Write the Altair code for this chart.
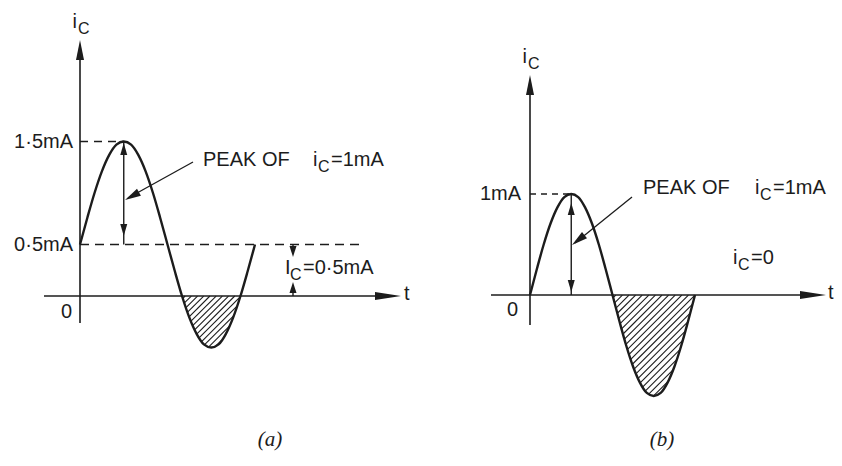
import math
import altair as alt
import numpy as np
import pandas as pd

# ---------------- values ----------------
# phase within one cycle of the signal (fraction of a period)
phase = [0.0, 0.042, 0.083, 0.125, 0.167, 0.208, 0.25, 0.292, 0.333, 0.375, 0.417, 0.458,
         0.5, 0.542, 0.583, 0.625, 0.667, 0.708, 0.75, 0.792, 0.833, 0.875, 0.917, 0.958, 1.0]
# (a) collector current riding on a 0.5 mA bias (mA)
ic_a = [0.50, 0.76, 1.00, 1.21, 1.37, 1.47, 1.50, 1.47, 1.37, 1.21, 1.00, 0.76,
        0.50, 0.24, 0.00, -0.21, -0.37, -0.47, -0.50, -0.47, -0.37, -0.21, 0.00, 0.24, 0.50]
# (b) collector current with no bias (mA)
ic_b = [0.00, 0.26, 0.50, 0.71, 0.87, 0.97, 1.00, 0.97, 0.87, 0.71, 0.50, 0.26,
        0.00, -0.26, -0.50, -0.71, -0.87, -0.97, -1.00, -0.97, -0.87, -0.71, -0.50, -0.26, 0.00]
bias_a = 0.5
bias_b = 0.0
ticks_a = ["1·5mA", "0·5mA", "0"]
ticks_b = ["1mA", "0"]
peak_text = ["PEAK OF", "i", "C", "=1mA"]
dc_text_a = ["I", "C", "=0·5mA"]
dc_text_b = ["i", "C", "=0"]
axis_text = ["i", "C", "t"]
panel_titles = ["(a)", "(b)"]

# ---------------- layout / style ----------------
W, H = 826, 446
MARGIN = 8
INK = "#1c1c1c"
FONT = "Liberation Sans"
SERIF = "Liberation Serif"
FS = 20
FSUB = 16
# screen calibration of each panel: x of t=0, px per period, y of i=0, px per mA
CAL_A = (80, 175, 296, 103)
CAL_B = (530, 165, 295, 101)
ONE = pd.DataFrame({"k": [0]})


def tools(cal):
    x0, sx, y0, sy = cal
    xs = alt.Scale(domain=[(MARGIN - x0) / sx, (MARGIN + W - x0) / sx], nice=False, zero=False)
    ys = alt.Scale(domain=[(y0 - MARGIN - H) / sy, (y0 - MARGIN) / sy], nice=False, zero=False)
    px = lambda X: (X - x0) / sx
    py = lambda Y: (y0 - Y) / sy

    def rule(x1, y1, x2, y2, w=1.5, dash=None):
        kw = dict(color=INK, strokeWidth=w)
        if dash:
            kw["strokeDash"] = dash
        return alt.Chart(ONE).mark_rule(**kw).encode(
            x=alt.XDatum(x1, scale=xs, axis=None), x2=alt.X2Datum(x2),
            y=alt.YDatum(y1, scale=ys, axis=None), y2=alt.Y2Datum(y2))

    def head(x, y, angle, length, width):
        half = width / length
        shape = f"M0,0 L-2,{-half:.3f} L-2,{half:.3f} Z"
        return alt.Chart(ONE).mark_point(shape=shape, size=length ** 2, angle=angle % 360,
                                         filled=True, color=INK, opacity=1).encode(
            x=alt.XDatum(x, scale=xs, axis=None), y=alt.YDatum(y, scale=ys, axis=None))

    def text(x, y, s, dx=0, dy=0, size=FS, align="left", font=FONT, style="normal"):
        return alt.Chart(ONE).mark_text(text=s, align=align, baseline="middle", dx=dx, dy=dy,
                                        fontSize=size, font=font, fontStyle=style,
                                        color=INK).encode(
            x=alt.XDatum(x, scale=xs, axis=None), y=alt.YDatum(y, scale=ys, axis=None))

    def hatch(ts, vs, base, step):
        tt = np.linspace(ts[0], ts[-1], 3000)
        vv = np.interp(tt, ts, vs)
        mask = vv < base
        cmin = (tt[mask] * sx - base * sy).min()
        cmax = (tt[mask] * sx - vv[mask] * sy).max()
        rows = []
        for c in np.arange(cmin + step / 2, cmax, step):
            il = (tt * sx - c) / sy
            inside = mask & (il >= vv) & (il <= base)
            idx = np.nonzero(inside)[0]
            if len(idx) > 1:
                a, b = idx[0], idx[-1]
                rows.append({"t": tt[a], "i": il[a], "t2": tt[b], "i2": il[b]})
        df = pd.DataFrame(rows)
        return alt.Chart(df).mark_rule(color=INK, strokeWidth=1.1).encode(
            x=alt.X("t:Q", scale=xs, axis=None), x2="t2:Q",
            y=alt.Y("i:Q", scale=ys, axis=None), y2="i2:Q")

    def curve(ts, vs):
        return alt.Chart(pd.DataFrame({"t": ts, "i": vs})).mark_line(
            interpolate="monotone", color=INK, strokeWidth=2.4).encode(
            x=alt.X("t:Q", scale=xs, axis=None), y=alt.Y("i:Q", scale=ys, axis=None))

    def ang(X1, Y1, X2, Y2):
        return math.degrees(math.atan2(Y2 - Y1, X2 - X1))

    return px, py, rule, head, text, hatch, curve, ang


# ---------------- panel (a) ----------------
px, py, rule, head, text, hatch, curve, ang = tools(CAL_A)
k = int(np.argmax(ic_a))
tpk, top = phase[k], ic_a[k]
layers_a = [
    hatch(phase, ic_a, 0.0, 6.2),
    curve(phase, ic_a),
    # axes
    rule(0, py(323), 0, py(52), w=1.6),
    head(0, py(40), 270, 20, 8),
    rule(px(44), 0, px(385), 0, w=1.6),
    head(px(401), 0, 0, 26, 8),
    text(px(404), 0, axis_text[2], dy=-2),
    text(0, py(22), axis_text[0], align="right", dx=-3),
    text(0, py(22), axis_text[1], dx=-2, dy=7, size=FSUB),
    # dashed levels
    rule(0, bias_a, px(360), bias_a, w=1.4, dash=[9, 6]),
    rule(0, top, tpk, top, w=1.4, dash=[8, 6]),
    # peak double arrow
    rule(tpk, bias_a, tpk, top, w=1.4),
    head(tpk, py(143), 270, 12, 7),
    head(tpk, py(236), 90, 12, 7),
    # pointer
    rule(px(193), py(162), px(128), py(198), w=1.3),
    head(px(125), py(200), ang(193, 162, 125, 200), 16, 8),
    text(px(203), py(160), peak_text[0]),
    text(px(203), py(160), peak_text[1], dx=110),
    text(px(203), py(160), peak_text[2], dx=115, dy=7, size=FSUB),
    text(px(203), py(160), peak_text[3], dx=128),
    # dc dimension
    rule(px(293), bias_a, px(293), py(250), w=1.4),
    head(px(293), py(257), 90, 11, 7),
    rule(px(293), 0, px(293), py(289), w=1.4),
    head(px(293), py(282), 270, 11, 7),
    text(px(285), py(268), dc_text_a[0]),
    text(px(285), py(268), dc_text_a[1], dx=5, dy=7, size=FSUB),
    text(px(285), py(268), dc_text_a[2], dx=18),
    # tick labels
    text(0, top, ticks_a[0], align="right", dx=-7),
    text(0, bias_a, ticks_a[1], align="right", dx=-7),
    text(0, 0, ticks_a[2], align="right", dx=-8, dy=16),
    text(px(270), py(440), panel_titles[0], align="center", font=SERIF, style="italic", size=21),
]
panel_a = alt.layer(*layers_a)

# ---------------- panel (b) ----------------
px, py, rule, head, text, hatch, curve, ang = tools(CAL_B)
k = int(np.argmax(ic_b))
tpk, top = phase[k], ic_b[k]
layers_b = [
    hatch(phase, ic_b, 0.0, 6.6),
    curve(phase, ic_b),
    rule(0, py(325), 0, py(87), w=1.6),
    head(0, py(75), 270, 20, 8),
    rule(px(491), 0, px(810), 0, w=1.6),
    head(px(826), 0, 0, 26, 8),
    text(px(828), 0, axis_text[2], dy=-2),
    text(0, py(57), axis_text[0], align="right", dx=-3),
    text(0, py(57), axis_text[1], dx=-2, dy=7, size=FSUB),
    rule(0, top, tpk, top, w=1.4, dash=[6, 5]),
    rule(tpk, bias_b, tpk, top, w=1.4),
    head(tpk, py(203), 270, 12, 7),
    head(tpk, py(292), 90, 12, 7),
    rule(px(632), py(197), px(575), py(243), w=1.3),
    head(px(572), py(245), ang(632, 197, 572, 245), 16, 8),
    text(px(643), py(188), peak_text[0]),
    text(px(643), py(188), peak_text[1], dx=112),
    text(px(643), py(188), peak_text[2], dx=117, dy=7, size=FSUB),
    text(px(643), py(188), peak_text[3], dx=130),
    text(px(733), py(258), dc_text_b[0]),
    text(px(733), py(258), dc_text_b[1], dx=5, dy=7, size=FSUB),
    text(px(733), py(258), dc_text_b[2], dx=18),
    text(0, top, ticks_b[0], align="right", dx=-9),
    text(0, 0, ticks_b[1], align="right", dx=-12, dy=15),
    text(px(662), py(440), panel_titles[1], align="center", font=SERIF, style="italic", size=21),
]
panel_b = alt.layer(*layers_b)

chart = alt.layer(panel_a, panel_b).resolve_scale(
    x="independent", y="independent"
).properties(
    width=W, height=H, padding=0, autosize=alt.AutoSizeParams(type="none")
).configure_view(stroke=None)

chart.save("out.html", embed_options={"renderer": "svg", "actions": False})
